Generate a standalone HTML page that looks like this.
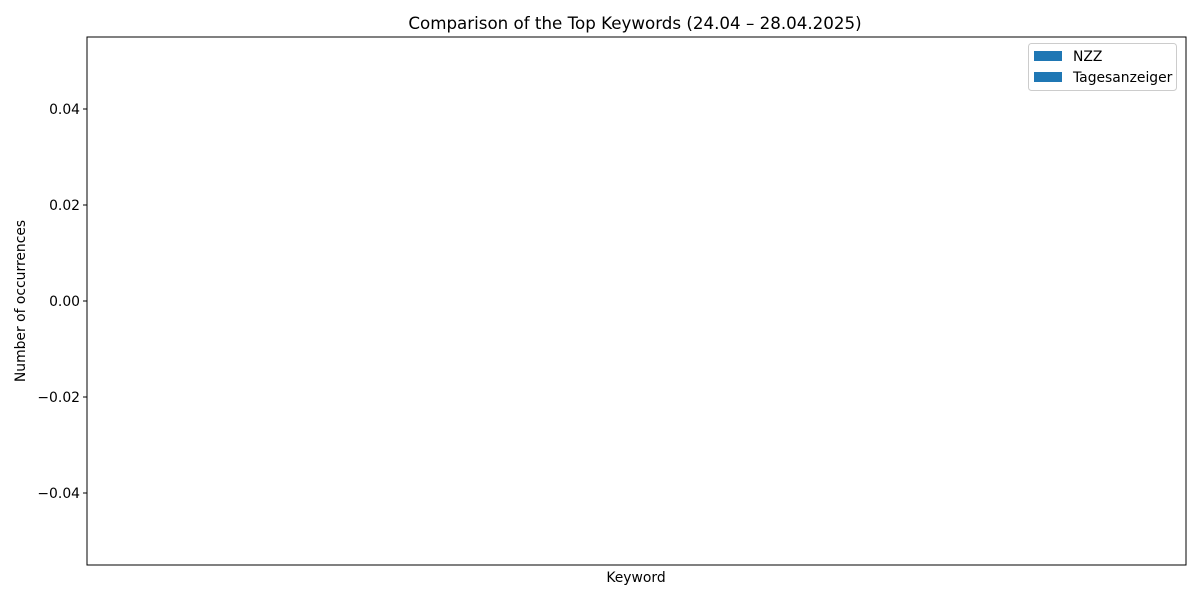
<!DOCTYPE html>
<html><head><meta charset="utf-8"><style>
body{margin:0;background:#fff;font-family:"Liberation Sans","DejaVu Sans",sans-serif;}
svg text{font-family:"DejaVu Sans","Liberation Sans",sans-serif;fill:#000;}
</style></head><body>
<svg id="chart" width="1200" height="600" xmlns="http://www.w3.org/2000/svg">
<rect width="1200" height="600" fill="#fff"/>
<text x="635" y="29" font-size="16.7" text-anchor="middle">Comparison of the Top Keywords (24.04 – 28.04.2025)</text>
<g id="yticks"></g>
<g id="bars"></g>
<rect x="87" y="37" width="1099" height="528" fill="none" stroke="#000" stroke-width="1"/>
<text x="636" y="582" font-size="13.9" text-anchor="middle">Keyword</text>
<text transform="translate(25,301) rotate(-90)" font-size="13.9" text-anchor="middle">Number of occurrences</text>
<g>
<rect x="1028.5" y="43.5" width="148" height="47" rx="3" fill="#fff" stroke="#ccc"/>
<rect x="1034" y="51" width="28" height="10" fill="#1f77b4"/>
<text x="1073" y="61" font-size="13.9">NZZ</text>
<rect x="1034" y="72" width="28" height="10" fill="#1f77b4"/>
<text x="1073" y="82" font-size="13.9">Tagesanzeiger</text>
</g>
</svg>
<script>
const categories = [];
const nzzValues = [];
const tagiValues = [];
const yTicks = [0.04, 0.02, 0.00, -0.02, -0.04];
const yTickLabels = ["0.04", "0.02", "0.00", "\u22120.02", "\u22120.04"];
const NS = "http://www.w3.org/2000/svg";
const yMin = -0.055, yMax = 0.055, pTop = 37, pBottom = 565, pLeft = 87, pRight = 1186;
function yScale(v){ return pBottom - (v - yMin) / (yMax - yMin) * (pBottom - pTop); }
const g = document.getElementById('yticks');
yTicks.forEach((t, i) => {
  const l = document.createElementNS(NS, 'line');
  l.setAttribute('x1', pLeft - 4); l.setAttribute('x2', pLeft);
  l.setAttribute('y1', yScale(t)); l.setAttribute('y2', yScale(t));
  l.setAttribute('stroke', '#000');
  
  
  g.appendChild(l);
  const tx = document.createElementNS(NS, 'text');
  tx.setAttribute('x', pLeft - 7); tx.setAttribute('y', yScale(t) + 5);
  tx.setAttribute('font-size', '13.9'); tx.setAttribute('text-anchor', 'end');
  tx.textContent = yTickLabels[i];
  
  
  g.appendChild(tx);
});
const bg = document.getElementById('bars');
const n = categories.length;
if (n) {
  const step = (pRight - pLeft) / n, w = step * 0.35;
  categories.forEach((c, i) => {
    [[nzzValues[i], -w], [tagiValues[i], 0]].forEach(([v, off]) => {
      const r = document.createElementNS(NS, 'rect');
      const cx = pLeft + step * (i + 0.5);
      r.setAttribute('x', cx + off); r.setAttribute('width', w);
      r.setAttribute('y', Math.min(yScale(v), yScale(0))); r.setAttribute('height', Math.abs(yScale(v) - yScale(0)));
      r.setAttribute('fill', '#1f77b4');
      
      
      bg.appendChild(r);
    });
  });
}
</script>
</body></html>
